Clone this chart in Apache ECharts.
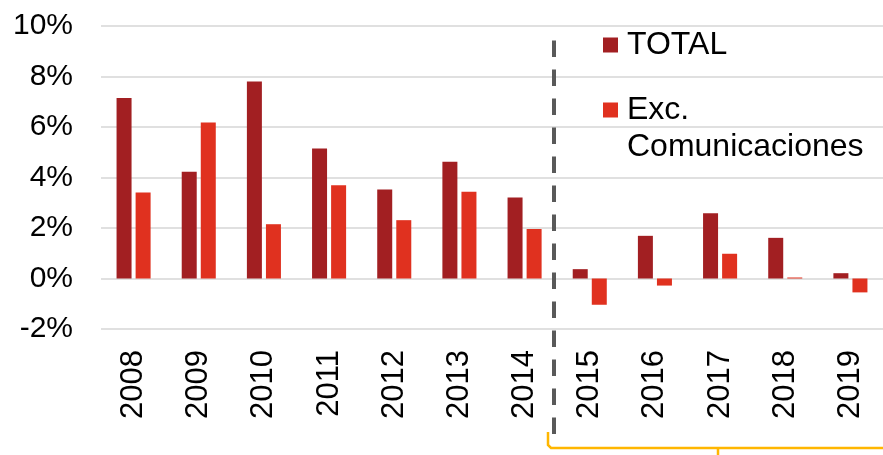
<!DOCTYPE html>
<html>
<head>
<meta charset="utf-8">
<script src="https://cdn.jsdelivr.net/npm/echarts@6/dist/echarts.min.js"></script>
<style>
    html, body { margin: 0; padding: 0; background: #fff; }
    #chart { width: 883px; height: 455px; }
</style>
</head>
<body>
<div id="chart"></div>
<script>
// datos (en %)
let years = ['2008', '2009', '2010', '2011', '2012', '2013', '2014', '2015', '2016', '2017', '2018', '2019'];
let totalList = [7.15, 4.23, 7.8, 5.15, 3.52, 4.62, 3.21, 0.37, 1.69, 2.58, 1.61, 0.21];
let excList = [3.41, 6.18, 2.15, 3.69, 2.31, 3.44, 1.96, -1.04, -0.28, 0.98, 0.04, -0.55];
let yTicks = { min: -2, max: 10, interval: 2 };

let fontName = 'Liberation Sans';

let myChart = echarts.init(document.getElementById('chart'));
let option = {
    animation: false,
    grid: {
        left: 101,
        right: -5,
        top: 26,
        bottom: 126,
        containLabel: false
    },
    legend: [
        {
            orient: 'vertical',
            left: 603,
            top: 26.5,
            padding: 0,
            itemWidth: 15,
            itemHeight: 15,
            icon: 'rect',
            selectedMode: false,
            data: ['TOTAL'],
            textStyle: {
                fontFamily: fontName,
                fontSize: 32,
                lineHeight: 37,
                color: '#000',
                padding: [0, 0, 0, 4]
            }
        },
        {
            orient: 'vertical',
            left: 603,
            top: 54.5,
            padding: 0,
            itemWidth: 15,
            itemHeight: 15,
            icon: 'rect',
            selectedMode: false,
            data: ['Exc. Comunicaciones'],
            // primera línea vacía para que el icono quede junto a "Exc."
            formatter: function () {
                return '\nExc.\nComunicaciones';
            },
            textStyle: {
                fontFamily: fontName,
                fontSize: 32,
                lineHeight: 37,
                color: '#000',
                padding: [0, 0, 0, 4]
            }
        }
    ],
    xAxis: {
        type: 'category',
        data: years,
        axisLine: { show: false },
        axisTick: { show: false },
        axisLabel: {
            rotate: 90,
            margin: 21,
            fontFamily: fontName,
            fontSize: 31,
            color: '#000'
        }
    },
    yAxis: {
        type: 'value',
        min: yTicks.min,
        max: yTicks.max,
        interval: yTicks.interval,
        axisLine: { show: false },
        axisTick: { show: false },
        axisLabel: {
            margin: 28,
            formatter: '{value}%',
            fontFamily: fontName,
            fontSize: 30,
            color: '#000'
        },
        splitLine: {
            lineStyle: { color: '#d6d6d6', width: 1.6 }
        }
    },
    series: [
        {
            name: 'TOTAL',
            type: 'bar',
            barWidth: 15,
            barGap: '27%',
            itemStyle: { color: '#A21F22' },
            data: totalList
        },
        {
            name: 'Exc. Comunicaciones',
            type: 'bar',
            barWidth: 15,
            barGap: '27%',
            itemStyle: { color: '#E0311F' },
            data: excList
        }
    ],
    graphic: [
        {
            // separador histórico / previsión
            type: 'line',
            shape: { x1: 554, y1: 40.5, x2: 554, y2: 435 },
            style: { stroke: '#595959', lineWidth: 4, lineDash: [16.5, 12.5] },
            z: 10
        },
        {
            // llave naranja bajo los años 2015-2019
            type: 'polyline',
            shape: {
                points: [[548, 432], [548, 445], [551, 448], [885, 448]]
            },
            style: { fill: null, stroke: '#FFB600', lineWidth: 2.5 },
            z: 10
        },
        {
            type: 'line',
            shape: { x1: 718, y1: 448, x2: 718, y2: 455 },
            style: { stroke: '#FFB600', lineWidth: 2.5 },
            z: 10
        }
    ]
};
myChart.setOption(option);
</script>
</body>
</html>
